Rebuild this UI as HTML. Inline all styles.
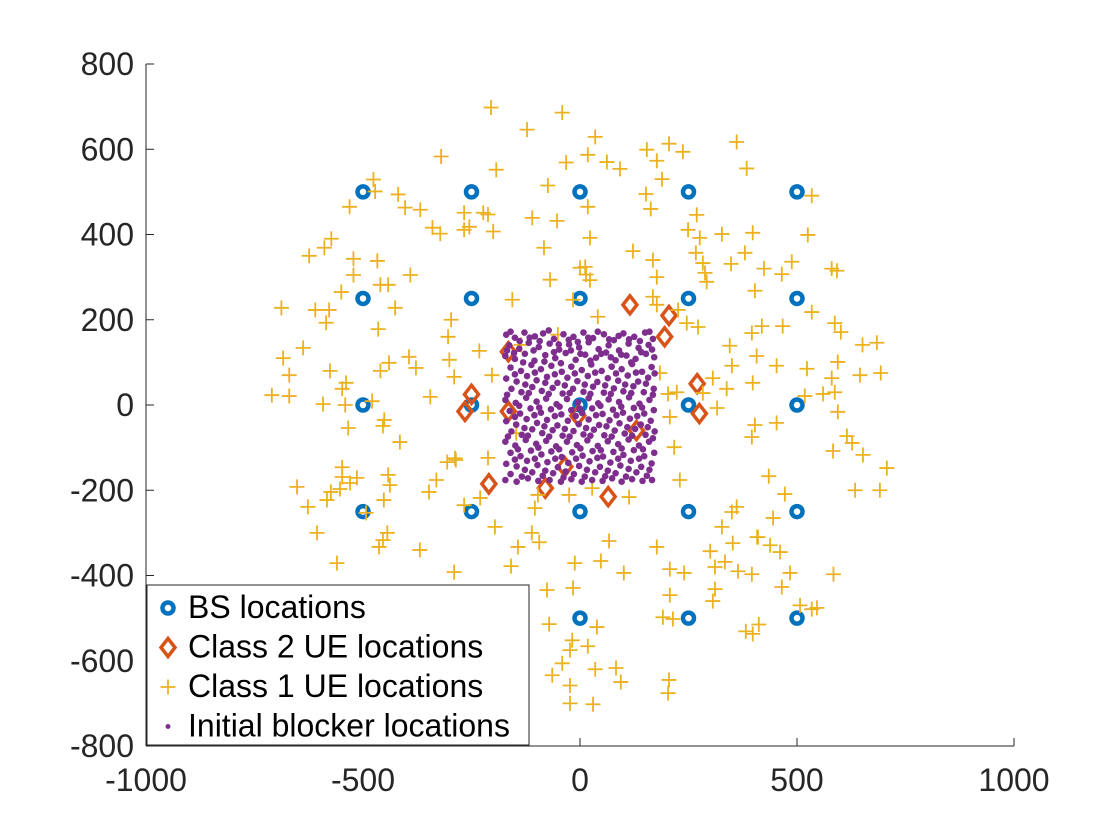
<!DOCTYPE html>
<html><head><meta charset="utf-8"><style>
body{margin:0;background:#fff;}
svg{display:block;font-family:"Liberation Sans",Arial,sans-serif;}
</style></head><body>
<svg id="chart" width="1120" height="840" viewBox="0 0 1120 840">
<rect width="1120" height="840" fill="#fff"/>
<g id="marks"></g>
<g id="axes"></g>
<g id="legend"></g>
</svg>
<script>
const xTicks=[-1000,-500,0,500,1000];
const yTicks=[-800,-600,-400,-200,0,200,400,600,800];
const bsX=[-500,-250,0,250,500,-500,-250,0,250,500,-500,-250,0,250,500,-500,-250,0,250,500,-500,-250,0,250,500];
const bsY=[500,500,500,500,500,250,250,250,250,250,0,0,0,0,0,-250,-250,-250,-250,-250,-500,-500,-500,-500,-500];
const c2X=[115,205,195,270,275,-250,-265,-165,-165,-210,-80,65,-35,-5,130];
const c2Y=[235,210,160,50,-20,25,-15,125,-15,-185,-195,-215,-145,-25,-60];
const c1=[
[-205,698],[-122,646],[-41,686],[-320,583],[-193,552],[-32,569],[-74,515],[-110,439],[-53,432],[-83,369],[23,392],[0,322],[14,306],[-69,294],[-16,247],[-156,247],[-51,165],[-136,141],[-147,-66],[-301,106],[-345,19],[-331,-176],[-288,-125],
[-472,501],[-476,529],[-419,494],[-531,465],[-403,463],[-368,458],[-340,416],[-267,451],[-255,418],[-267,411],[-322,402],[-212,447],[-223,451],[-200,407],
[-624,350],[-589,369],[-573,390],[-522,343],[-467,338],[-522,305],[-391,305],[-550,265],[-460,282],[-442,282],[-426,228],[-688,228],[-610,223],[-578,223],[-585,193],[-465,178],[-297,200],[-304,160],[-232,127],[-394,113],[-440,99],[-460,80],[-378,87],[-290,66],[-203,70],[-684,110],[-670,70],[-638,134],[-576,80],[-539,52],[-548,38],[-710,23],[-670,21],[-592,2],[-541,0],[-479,9],
[-534,-54],[-451,-35],[-454,-49],[-415,-87],[-306,-134],[-286,-129],[-212,-124],[-212,-19],[-548,-146],[-548,-169],[-514,-171],[-530,-183],[-442,-164],[-438,-188],[-652,-192],[-574,-204],[-583,-223],[-627,-239],[-553,-197],[-452,-223],[-348,-204],[-493,-253],[-606,-300],[-444,-300],[-454,-317],[-463,-333],[-369,-340],[-560,-371],[-290,-392],[-230,-218],[-267,-235],[-196,-286],[-143,-333],[-111,-300],[-94,-322],[-159,-378],[-104,-242],[-97,-211],[-25,-211],[-76,-434],[-71,-514],[-12,-371],[-16,-429],[-18,-552],[-23,-575],[-41,-606],[-64,-634],[-23,-658],[-23,-700],
[35,629],[18,587],[62,570],[92,554],[154,599],[205,613],[237,594],[177,573],[189,530],[361,617],[384,555],[152,495],[163,460],[18,465],[534,491],[269,446],[249,411],[276,392],[327,401],[398,404],[525,399],[122,361],[168,340],[267,357],[283,333],[380,357],[348,331],[424,320],[465,307],[488,336],[580,320],[592,315],[288,310],[292,289],[177,300],[12,324],[23,293],[403,268],[168,254],[177,235],[41,207],[226,223],[246,192],[272,183],[419,185],[396,169],[467,185],[534,218],[587,192],[601,171],[651,141],[684,146],[345,139],[407,115],[350,92],[453,92],[523,85],[594,101],[580,63],[645,70],[693,75],[184,75],[306,63],[398,52],[338,38],[518,21],[560,26],[587,30],[203,26],[223,30],[283,28],
[594,-16],[316,-7],[207,-28],[403,-47],[453,-42],[396,-75],[615,-73],[627,-89],[583,-108],[652,-117],[707,-148],[217,-99],[435,-167],[230,-176],[634,-200],[691,-200],[472,-209],[28,-195],[113,-216],[361,-239],[350,-251],[445,-265],[327,-286],[410,-310],[408,-310],[352,-324],[438,-329],[461,-345],[300,-343],[67,-319],[177,-333],[48,-366],[334,-368],[311,-380],[207,-385],[240,-394],[364,-390],[396,-397],[484,-394],[584,-397],[101,-394],[465,-427],[311,-432],[306,-460],[207,-446],[507,-470],[534,-479],[546,-476],[191,-498],[214,-502],[39,-521],[412,-515],[382,-531],[398,-537],[18,-566],[35,-620],[83,-617],[94,-650],[205,-645],[203,-676],[30,-702]
];
const blk=[
[-170,165],[-150,158],[-128,170],[-104,161],[-85,168],[-60,155],[-38,166],[-15,160],[8,170],[30,157],[55,166],[78,152],[100,168],[125,160],[150,170],[168,155],
[-163,140],[-140,132],[-118,146],[-95,136],[-70,144],[-48,130],[-25,142],[-2,135],[20,147],[43,131],[66,140],[90,128],[112,144],[135,134],[158,141],
[-172,115],[-150,108],[-127,120],[-105,104],[-80,117],[-57,110],[-33,122],[-10,106],[12,118],[37,111],[60,123],[82,105],[107,116],[128,108],[152,120],[171,112],
[-160,88],[-136,80],[-112,94],[-90,84],[-66,92],[-42,78],[-20,90],[4,82],[26,95],[50,80],[73,90],[96,84],[120,96],[143,78],[165,89],
[-170,62],[-146,55],[-122,68],[-100,58],[-76,66],[-52,52],[-29,64],[-6,56],[18,68],[40,54],[64,63],[88,57],[110,69],[134,55],[157,64],
[-158,38],[-135,30],[-110,42],[-88,33],[-63,40],[-40,27],[-16,38],[8,31],[30,43],[55,29],[78,39],[100,32],[123,44],[147,30],[170,38],
[-172,12],[-148,5],[-124,17],[-100,8],[-78,15],[-54,2],[-30,14],[-5,6],[20,16],[42,4],[66,13],[90,7],[113,18],[137,3],[160,12],
[-162,-14],[-138,-20],[-114,-8],[-90,-18],[-67,-10],[-43,-22],[-20,-12],[5,-19],[28,-8],[52,-21],[76,-11],[99,-18],[124,-7],[148,-20],[170,-12],
[-170,-38],[-147,-46],[-123,-33],[-99,-42],[-76,-35],[-52,-48],[-28,-37],[-3,-45],[20,-34],[44,-47],[68,-36],[91,-43],[115,-32],[140,-46],[163,-37],
[-158,-62],[-134,-70],[-110,-57],[-87,-66],[-63,-59],[-40,-72],[-15,-61],[8,-69],[32,-58],[56,-71],[80,-60],[103,-67],[127,-56],[151,-70],[172,-62],
[-172,-86],[-149,-95],[-125,-82],[-101,-91],[-78,-84],[-55,-97],[-30,-86],[-7,-94],[17,-83],[41,-96],[64,-85],[88,-92],[112,-81],[136,-95],[159,-86],
[-160,-112],[-137,-120],[-113,-107],[-89,-116],[-66,-109],[-42,-122],[-18,-111],[6,-119],[29,-108],[53,-121],[77,-110],[100,-117],[124,-106],[148,-120],[171,-112],
[-170,-138],[-146,-144],[-122,-131],[-98,-141],[-75,-134],[-51,-146],[-27,-136],[-2,-143],[22,-132],[46,-145],[70,-135],[93,-142],[117,-131],[141,-145],[165,-137],
[-160,-162],[-134,-168],[-110,-158],[-86,-166],[-62,-160],[-38,-170],[-14,-162],[11,-168],[35,-158],[58,-167],[82,-160],[106,-168],[130,-158],[154,-166],
[-160,172],[-139,150],[-116,158],[-93,150],[-72,175],[-49,142],[-26,153],[-5,148],[19,158],[41,172],[67,154],[89,162],[113,154],[138,150],[160,172],
[-168,128],[-152,122],[-131,100],[-107,128],[-82,102],[-60,124],[-44,98],[-21,128],[1,120],[24,104],[49,120],[71,112],[95,118],[118,100],[141,124],[166,130],
[-150,72],[-126,48],[-104,76],[-80,52],[-58,72],[-35,46],[-12,74],[11,48],[35,76],[58,46],[83,74],[104,48],[129,76],[152,50],[172,74],
[-168,24],[-140,-2],[-118,28],[-94,-6],[-72,26],[-47,-4],[-24,28],[-1,-8],[24,26],[47,-2],[71,26],[95,-4],[118,28],[143,-6],[168,24],
[-150,-28],[-128,-54],[-105,-24],[-82,-50],[-58,-26],[-35,-56],[-10,-26],[14,-54],[37,-24],[61,-50],[84,-24],[109,-52],[132,-26],[156,-52],
[-166,-74],[-143,-104],[-120,-72],[-96,-100],[-71,-74],[-48,-104],[-24,-74],[1,-102],[24,-72],[48,-106],[73,-74],[96,-102],[120,-72],[145,-104],[168,-78],
[-150,-128],[-127,-152],[-104,-126],[-80,-154],[-57,-126],[-33,-156],[-9,-126],[16,-152],[40,-124],[64,-154],[88,-126],[112,-150],[136,-126],[160,-152],
[-172,-176],[-146,-180],[-120,-172],[-96,-178],[-70,-176],[-44,-180],[-20,-174],[4,-180],[28,-176],[52,-178],[74,-172],[96,-180],[120,-174],[144,-178],[166,-176]
];
const X0=580,XS=0.434,Y0=405,YS=0.42625;
function sx(v){return X0+v*XS;}
function sy(v){return Y0-v*YS;}
const NS='http://www.w3.org/2000/svg';
function mk(tag,attrs,parent){const e=document.createElementNS(NS,tag);for(const k in attrs)e.setAttribute(k,attrs[k]);parent.appendChild(e);return e;}
const marks=document.getElementById('marks');
const axes=document.getElementById('axes');
const legend=document.getElementById('legend');
function bsMarker(cx,cy,p){return mk('circle',{cx:cx,cy:cy,r:5.5,fill:'none',stroke:'#0072BD','stroke-width':4.5},p);}
function diamond(cx,cy,p){return mk('polygon',{points:`${cx},${cy-9} ${cx+7},${cy} ${cx},${cy+9} ${cx-7},${cy}`,fill:'none',stroke:'#D95319','stroke-width':3.5},p);}
function plus(cx,cy,p){return mk('path',{d:`M${cx-7.5},${cy}H${cx+7.5}M${cx},${cy-7.5}V${cy+7.5}`,stroke:'#EDB120','stroke-width':1.8,fill:'none'},p);}
function dot(cx,cy,p,r){return mk('circle',{cx:cx,cy:cy,r:r||3.3,fill:'#7E2F8E'},p);}
for(let i=0;i<bsX.length;i++){const e=bsMarker(sx(bsX[i]),sy(bsY[i]),marks);

}
for(let i=0;i<c2X.length;i++){const e=diamond(sx(c2X[i]),sy(c2Y[i]),marks);

}
for(let i=0;i<c1.length;i++){const e=plus(sx(c1[i][0]),sy(c1[i][1]),marks);

}
for(let i=0;i<blk.length;i++){const e=dot(sx(blk[i][0]),sy(blk[i][1]),marks);

}
let a=mk('line',{x1:146,y1:sy(-800),x2:146,y2:sy(800),stroke:'#262626','stroke-width':1},axes);


a=mk('line',{x1:146,y1:sy(-800),x2:sx(1000),y2:sy(-800),stroke:'#262626','stroke-width':1},axes);


yTicks.forEach(v=>{const y=sy(v);mk('line',{x1:146,y1:y,x2:154,y2:y,stroke:'#262626'},axes);
const t=mk('text',{x:134,y:y+11,'text-anchor':'end','font-size':32,fill:'#262626'},axes);t.textContent=v;

});
xTicks.forEach(v=>{const x=sx(v);mk('line',{x1:x,y1:746,x2:x,y2:738,stroke:'#262626'},axes);
const t=mk('text',{x:x,y:791,'text-anchor':'middle','font-size':32,fill:'#262626'},axes);t.textContent=v;

});
const lb=mk('rect',{x:147,y:585,width:382,height:160,fill:'#fff',stroke:'#262626','stroke-width':1},legend);


const labels=['BS locations','Class 2 UE locations','Class 1 UE locations','Initial blocker locations'];
const fns=[bsMarker,diamond,plus,dot];
labels.forEach((s,i)=>{const y=608+i*39.5;fns[i](168,y,legend,2.5);
const t=mk('text',{x:188,y:y+10,'font-size':32,fill:'#000'},legend);t.textContent=s;

});
</script>
</body></html>
